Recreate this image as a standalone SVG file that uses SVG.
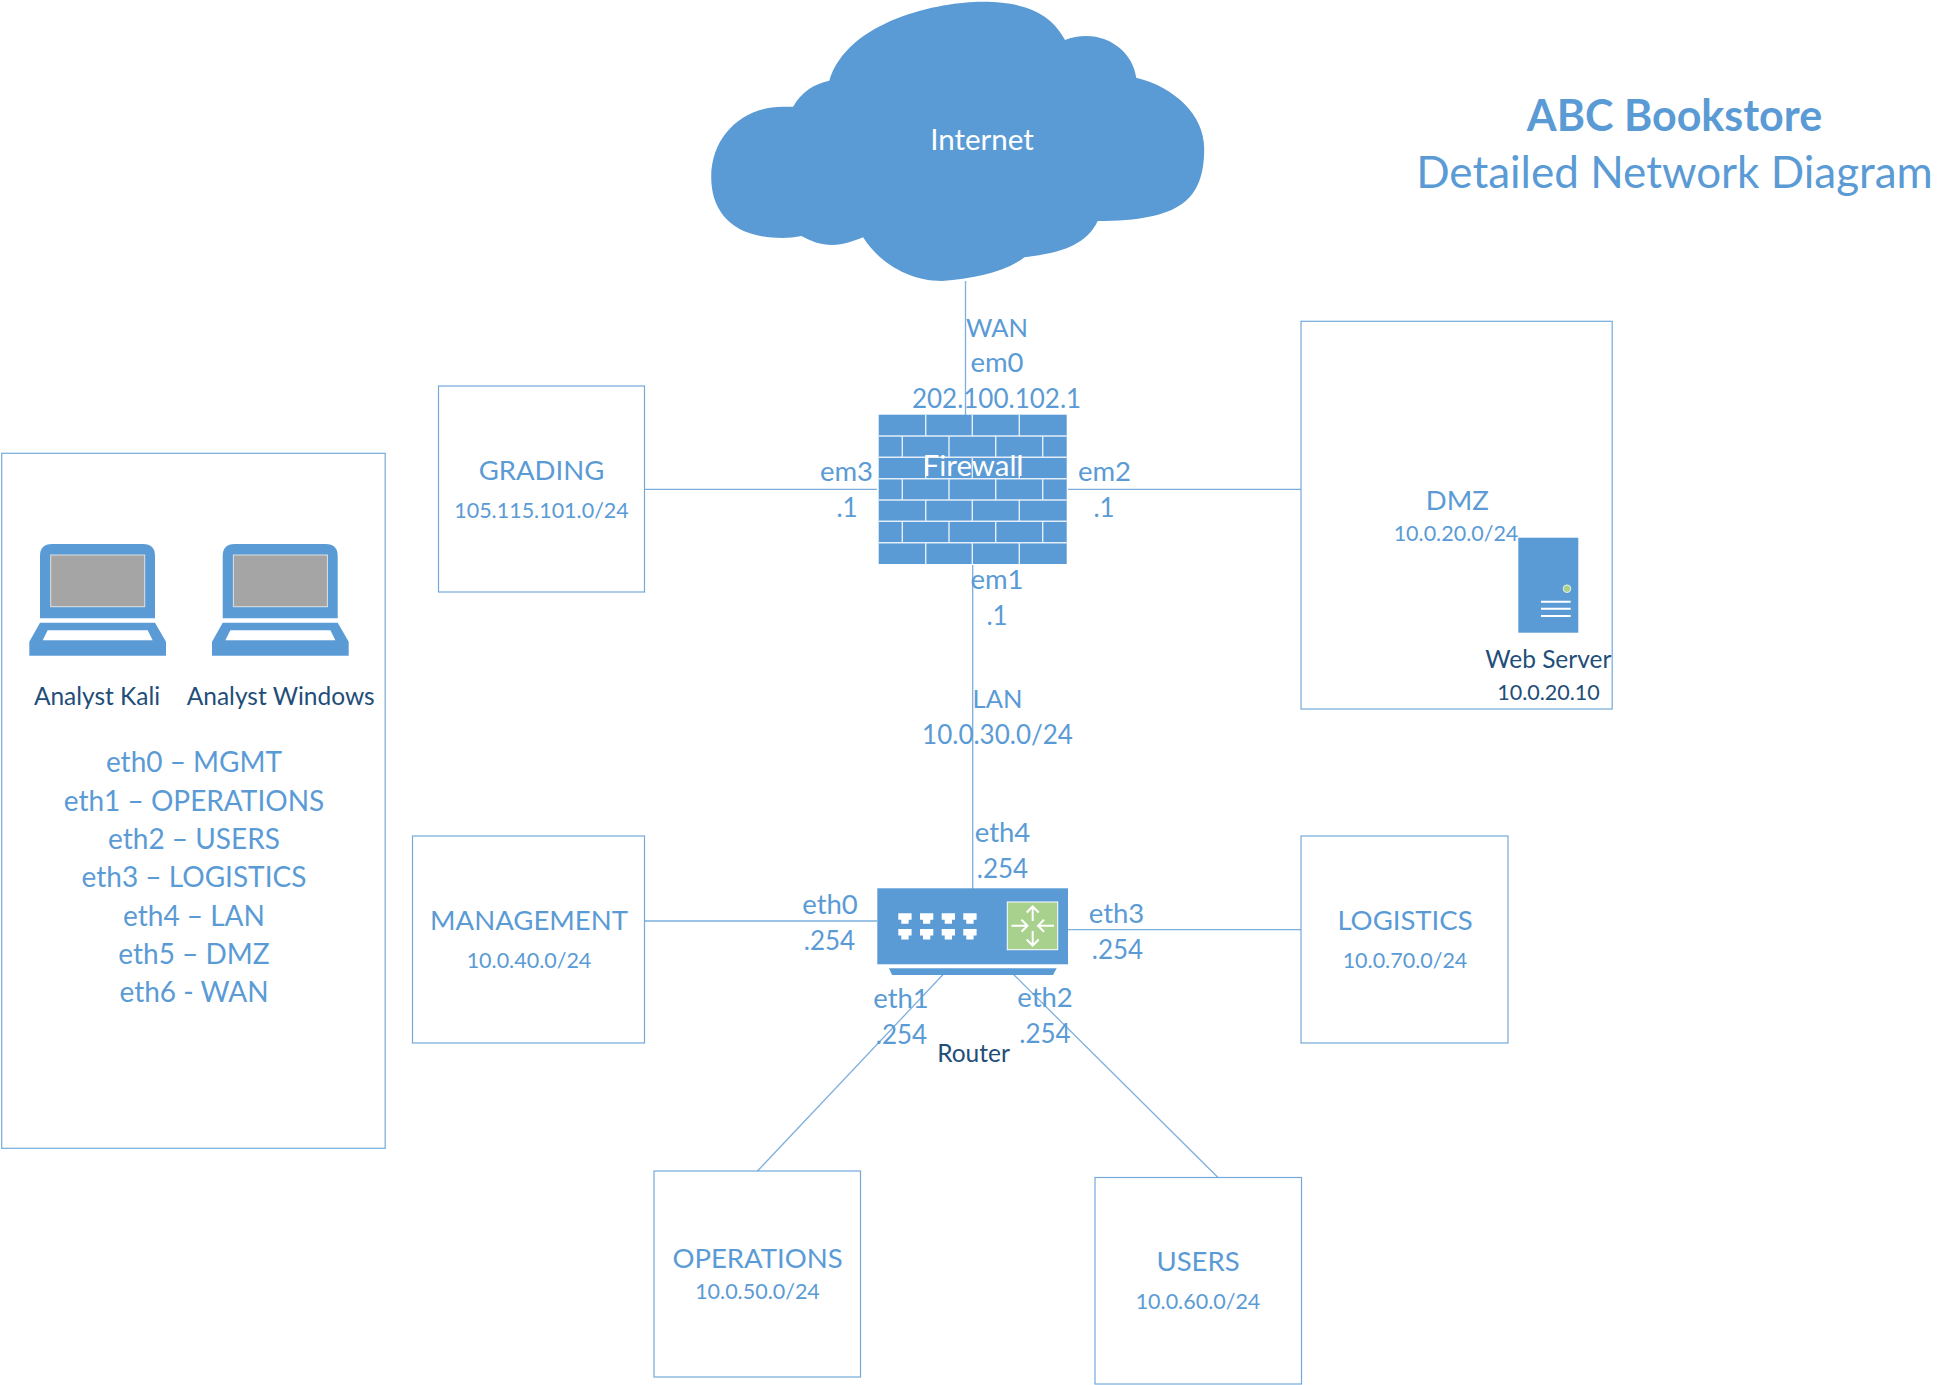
<svg xmlns="http://www.w3.org/2000/svg" xmlns:xlink="http://www.w3.org/1999/xlink" width="1958" height="1385" viewBox="0 0 1958 1385">
<style>
text{font-family:"Lato","Carlito","Open Sans",sans-serif;text-anchor:middle;fill:#5b9bd5}
.l{font-size:27.5px}
.n{font-size:26px}
.c{font-size:25.5px}
.t{font-size:28px}
.s{font-size:21.5px}
.d{font-size:24.5px;fill:#1f4e79}
.dn{font-size:21.5px;fill:#1f4e79}
.w{font-size:29.5px;fill:#fff}
.box{fill:none;stroke:#5b9bd5;stroke-width:1.2;stroke-opacity:.85}
.conn{fill:none;stroke:#5b9bd5;stroke-width:1.3;stroke-opacity:.8}
.ic{fill:#5b9bd5}
.br{stroke:#e4eef8;stroke-width:1.4;fill:none}
.arr{stroke:#fff;stroke-width:2;fill:none}
</style>
<defs>
<path id="port" d="M0,0h13.3v6.5h-3v4h-7.3v-4h-3z" fill="#fff"/>
<g id="laptop">
<path class="ic" d="M40,618.3V556Q40,544 52,544H143Q155,544 155,556V618.3Z"/>
<rect x="50.7" y="555" width="94" height="51.7" fill="#a5a5a5" stroke="#e0e0e0" stroke-width="1"/>
<path class="ic" d="M40,622.7H155L166,641.7V655.7H29.3V641.7Z"/>
<path d="M47.7,630.3H147.7L152.7,640.3H42.7Z" fill="#fff"/>
</g>
</defs>
<rect width="1958" height="1385" fill="#fff"/>

<g id="cloud">
<path class="ic" transform="translate(-1.5,0)" d="M830.8,80.7C849.2,20 941.5,1.7 983.8,1.7C1033.8,1.7 1055,18.3 1066.5,40C1073,37.5 1080,36 1087.7,36C1114,36 1135,55 1137.7,77.7C1176,87 1205.7,115 1205.7,148.3C1205.7,200 1182,221 1099.2,221C1088,245 1062,253 1026,257.3C1005,273 975,278 943.5,281C910,281 880,262 864.6,237.3C855,241 845,245 833.8,245C822,245 812,241 803,236C797,237 790,238 783.8,238C732,238 712.7,210 712.7,177C712.7,135 745,106.7 783.8,106.7L794.6,106.7C803,92 815,84 830.8,80.7Z"/>
<text class="w" x="982" y="150">Internet</text>
</g>

<g id="title">
<text x="1674.5" y="131" font-size="43" font-weight="700">ABC Bookstore</text>
<text x="1674.5" y="188" font-size="44">Detailed Network Diagram</text>
</g>

<g id="firewall">
<rect class="ic" x="878.7" y="414.7" width="188" height="149.3"/>
<path class="br" d="M878.7,436H1066.7M878.7,457.3H1066.7M878.7,478.7H1066.7M878.7,500H1066.7M878.7,521.3H1066.7M878.7,542.7H1066.7"/>
<path class="br" d="M925.7,414.7V436M972.3,414.7V436M1019.3,414.7V436M925.7,457.3V478.7M972.3,457.3V478.7M1019.3,457.3V478.7M925.7,500V521.3M972.3,500V521.3M1019.3,500V521.3M925.7,542.7V564M972.3,542.7V564M1019.3,542.7V564"/>
<path class="br" d="M902.3,436V457.3M949,436V457.3M995.7,436V457.3M1042.7,436V457.3M902.3,478.7V500M949,478.7V500M995.7,478.7V500M1042.7,478.7V500M902.3,521.3V542.7M949,521.3V542.7M995.7,521.3V542.7M1042.7,521.3V542.7"/>
<text class="w" x="973" y="476">Firewall</text>
</g>

<g id="router">
<rect class="ic" x="877.3" y="888.3" width="190.7" height="76"/>
<path class="ic" d="M889,968.3H1056.7L1053,975H892Z"/>
<use href="#port" xlink:href="#port" x="898.3" y="913.3"/>
<use href="#port" xlink:href="#port" x="920" y="913.3"/>
<use href="#port" xlink:href="#port" x="941.7" y="913.3"/>
<use href="#port" xlink:href="#port" x="963.3" y="913.3"/>
<use href="#port" xlink:href="#port" x="898.3" y="929"/>
<use href="#port" xlink:href="#port" x="920" y="929"/>
<use href="#port" xlink:href="#port" x="941.7" y="929"/>
<use href="#port" xlink:href="#port" x="963.3" y="929"/>
<rect x="1007.3" y="902" width="50.4" height="47.7" fill="#a9d18e" stroke="#fff" stroke-width="1"/>
<path class="arr" d="M1032.7,921V907M1026.7,912.5L1032.7,906.5L1038.7,912.5M1032.7,931V945M1026.7,939.5L1032.7,945.5L1038.7,939.5M1011.5,925.7H1027M1021.5,919.7L1027.5,925.7L1021.5,931.7M1054,925.7H1038.5M1044,919.7L1038,925.7L1044,931.7"/>
<text class="d" x="973.5" y="1061.7">Router</text>
</g>

<g id="analysts">
<rect class="box" x="1.7" y="453.3" width="383.5" height="695"/>
<use href="#laptop" xlink:href="#laptop"/>
<use href="#laptop" xlink:href="#laptop" x="182.7"/>
<text class="d" x="97" y="704.5">Analyst Kali</text>
<text class="d" x="280.7" y="704.5">Analyst Windows</text>
<text class="t" x="194" y="772">eth0 – MGMT</text>
<text class="t" x="194" y="811">eth1 – OPERATIONS</text>
<text class="t" x="194" y="849">eth2 – USERS</text>
<text class="t" x="194" y="887">eth3 – LOGISTICS</text>
<text class="t" x="194" y="926">eth4 – LAN</text>
<text class="t" x="194" y="964">eth5 – DMZ</text>
<text class="t" x="194" y="1002">eth6 - WAN</text>
</g>

<g id="grading">
<rect class="box" x="438.5" y="386" width="206" height="206"/>
<text class="l" x="541.5" y="480">GRADING</text>
<text class="s" x="541.5" y="518">105.115.101.0/24</text>
</g>

<g id="management">
<rect class="box" x="412.5" y="836" width="232" height="207"/>
<text class="l" x="529" y="930">MANAGEMENT</text>
<text class="s" x="529" y="968">10.0.40.0/24</text>
</g>

<g id="dmz">
<rect class="box" x="1301" y="321.3" width="311.2" height="387.7"/>
<text class="l" x="1457.3" y="510">DMZ</text>
<text class="s" x="1456" y="541">10.0.20.0/24</text>
</g>

<g id="webserver">
<rect class="ic" x="1518.3" y="537.7" width="60" height="95"/>
<circle cx="1567" cy="588.7" r="3.8" fill="#a9d18e" stroke="#e8f0e0" stroke-width="1"/>
<path d="M1541,601.7H1570.7M1541,608.7H1570.7M1541,616H1570.7" stroke="#fff" stroke-width="2" fill="none"/>
<text class="d" x="1548.3" y="668">Web Server</text>
<text class="dn" x="1548.5" y="700">10.0.20.10</text>
</g>

<g id="logistics">
<rect class="box" x="1301" y="836" width="207" height="207"/>
<text class="l" x="1405" y="930">LOGISTICS</text>
<text class="s" x="1405" y="968">10.0.70.0/24</text>
</g>

<g id="operations">
<rect class="box" x="654" y="1171" width="206.5" height="206"/>
<text class="l" x="757.5" y="1268">OPERATIONS</text>
<text class="s" x="757.5" y="1299">10.0.50.0/24</text>
</g>

<g id="users">
<rect class="box" x="1095" y="1177.5" width="206.5" height="206.5"/>
<text class="l" x="1198" y="1271">USERS</text>
<text class="s" x="1198" y="1309">10.0.60.0/24</text>
</g>

<g id="connectors">
<path class="conn" d="M965.5,281V426"/>
<path class="conn" d="M972.7,565V897"/>
<path class="conn" d="M645,489.3H877"/>
<path class="conn" d="M1068,489.3H1301"/>
<path class="conn" d="M645,921H877"/>
<path class="conn" d="M1068,929.7H1301"/>
<path class="conn" d="M948.3,969L757.5,1171"/>
<path class="conn" d="M1008,969L1218,1177.5"/>
</g>

<g id="interface-labels">
<text class="c" x="997" y="336.7">WAN</text>
<text class="l" x="997" y="372">em0</text>
<text class="n" x="996.5" y="407.5">202.100.102.1</text>
<text class="l" x="846.5" y="481">em3</text>
<text class="n" x="847" y="517">.1</text>
<text class="l" x="1104.5" y="481">em2</text>
<text class="n" x="1104" y="517">.1</text>
<text class="l" x="997" y="589">em1</text>
<text class="n" x="997" y="625">.1</text>
<text class="c" x="997.5" y="708">LAN</text>
<text class="n" x="997.5" y="744">10.0.30.0/24</text>
<text class="l" x="1002.5" y="842">eth4</text>
<text class="n" x="1002.5" y="878">.254</text>
<text class="l" x="830" y="914">eth0</text>
<text class="n" x="829.5" y="950">.254</text>
<text class="l" x="1116.5" y="923">eth3</text>
<text class="n" x="1117.5" y="958.5">.254</text>
<text class="l" x="901" y="1008">eth1</text>
<text class="n" x="901.5" y="1044">.254</text>
<text class="l" x="1045" y="1007">eth2</text>
<text class="n" x="1045" y="1043">.254</text>
</g>
</svg>
